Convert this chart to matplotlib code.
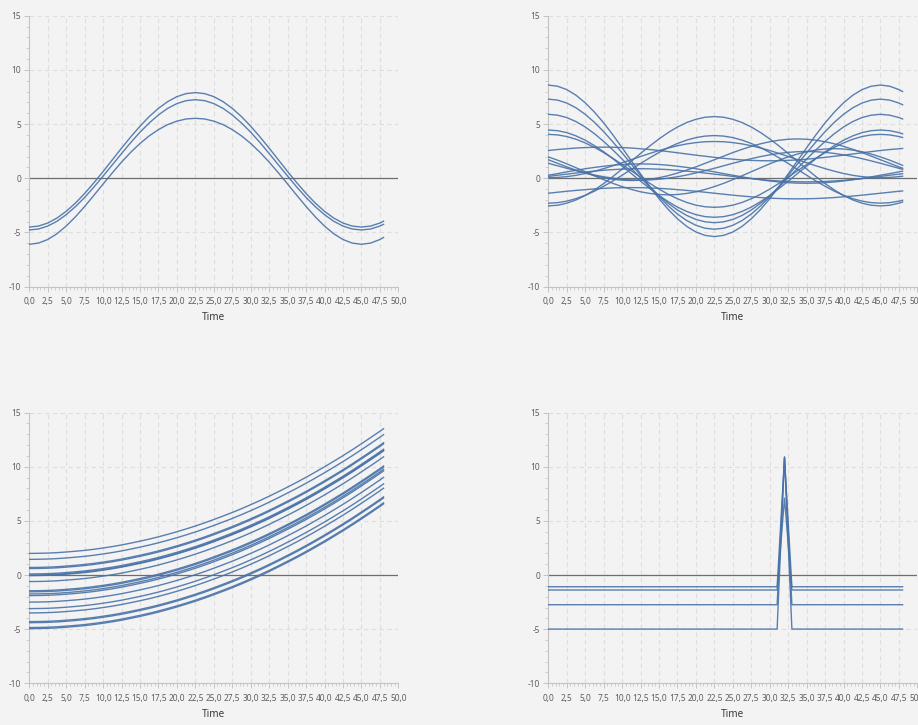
import matplotlib.pyplot as plt
import numpy as np
from matplotlib.ticker import MultipleLocator, FuncFormatter

plt.rcParams['font.family'] = ['Noto Sans', 'DejaVu Sans']
plt.rcParams['axes.unicode_minus'] = False

# sample times: every 1.25 up to 47.5, then the last sample at 48
t_grid = list(np.arange(0, 47.5 + 0.01, 1.25)) + [48]

# top left: three slow waves
waves_few = [
    [-4.50, -4.41, -4.13, -3.67, -3.05, -2.29, -1.40, -0.42, 0.62, 1.70,
     2.78, 3.82, 4.80, 5.69, 6.45, 7.07, 7.53, 7.81, 7.90, 7.81,
     7.53, 7.07, 6.45, 5.69, 4.80, 3.82, 2.78, 1.70, 0.62, -0.42,
     -1.40, -2.29, -3.05, -3.67, -4.13, -4.41, -4.50, -4.41, -4.13, -3.96],
    [-4.77, -4.68, -4.41, -3.97, -3.36, -2.62, -1.77, -0.82, 0.20, 1.24,
     2.28, 3.30, 4.25, 5.10, 5.84, 6.45, 6.89, 7.16, 7.25, 7.16,
     6.89, 6.45, 5.84, 5.10, 4.25, 3.30, 2.28, 1.24, 0.20, -0.82,
     -1.77, -2.62, -3.36, -3.97, -4.41, -4.68, -4.77, -4.68, -4.41, -4.25],
    [-6.09, -5.98, -5.65, -5.12, -4.41, -3.56, -2.60, -1.58, -0.53, 0.50,
     1.49, 2.40, 3.21, 3.91, 4.49, 4.95, 5.27, 5.47, 5.53, 5.47,
     5.27, 4.95, 4.49, 3.91, 3.21, 2.40, 1.49, 0.50, -0.53, -1.58,
     -2.60, -3.56, -4.41, -5.12, -5.65, -5.98, -6.09, -5.98, -5.65, -5.46],
]

# top right: many waves with mixed phases
waves_many = [
    [8.60, 8.49, 8.18, 7.66, 6.96, 6.10, 5.11, 4.00, 2.82, 1.61,
     0.40, -0.78, -1.89, -2.88, -3.74, -4.44, -4.96, -5.27, -5.38, -5.27,
     -4.96, -4.44, -3.74, -2.88, -1.89, -0.78, 0.40, 1.61, 2.82, 4.00,
     5.11, 6.10, 6.96, 7.66, 8.18, 8.49, 8.60, 8.49, 8.18, 8.00],
    [7.30, 7.21, 6.94, 6.50, 5.90, 5.16, 4.30, 3.35, 2.34, 1.30,
     0.26, -0.75, -1.70, -2.56, -3.30, -3.90, -4.34, -4.61, -4.70, -4.61,
     -4.34, -3.90, -3.30, -2.56, -1.70, -0.75, 0.26, 1.30, 2.34, 3.35,
     4.30, 5.16, 5.90, 6.50, 6.94, 7.21, 7.30, 7.21, 6.94, 6.78],
    [5.90, 5.82, 5.60, 5.23, 4.73, 4.11, 3.40, 2.61, 1.77, 0.90,
     0.03, -0.81, -1.60, -2.31, -2.93, -3.43, -3.80, -4.02, -4.10, -4.02,
     -3.80, -3.43, -2.93, -2.31, -1.60, -0.81, 0.03, 0.90, 1.77, 2.61,
     3.40, 4.11, 4.73, 5.23, 5.60, 5.82, 5.90, 5.82, 5.60, 5.47],
    [4.45, 4.39, 4.21, 3.91, 3.51, 3.01, 2.44, 1.80, 1.12, 0.43,
     -0.27, -0.95, -1.59, -2.16, -2.66, -3.06, -3.36, -3.54, -3.60, -3.54,
     -3.36, -3.06, -2.66, -2.16, -1.59, -0.95, -0.27, 0.43, 1.12, 1.80,
     2.44, 3.01, 3.51, 3.91, 4.21, 4.39, 4.45, 4.39, 4.21, 4.10],
    [4.05, 4.00, 3.85, 3.60, 3.26, 2.85, 2.37, 1.84, 1.27, 0.69,
     0.10, -0.47, -1.00, -1.48, -1.89, -2.23, -2.48, -2.63, -2.68, -2.63,
     -2.48, -2.23, -1.89, -1.48, -1.00, -0.47, 0.10, 0.69, 1.27, 1.84,
     2.37, 2.85, 3.26, 3.60, 3.85, 4.00, 4.05, 4.00, 3.85, 3.76],
    [-2.55, -2.49, -2.30, -2.00, -1.59, -1.08, -0.49, 0.16, 0.85, 1.57,
     2.29, 2.98, 3.63, 4.22, 4.73, 5.14, 5.44, 5.63, 5.69, 5.63,
     5.44, 5.14, 4.73, 4.22, 3.63, 2.98, 2.29, 1.57, 0.85, 0.16,
     -0.49, -1.08, -1.59, -2.00, -2.30, -2.49, -2.55, -2.49, -2.30, -2.19],
    [-2.30, -2.25, -2.11, -1.88, -1.57, -1.19, -0.74, -0.25, 0.28, 0.82,
     1.36, 1.89, 2.38, 2.83, 3.21, 3.52, 3.75, 3.89, 3.94, 3.89,
     3.75, 3.52, 3.21, 2.83, 2.38, 1.89, 1.36, 0.82, 0.28, -0.25,
     -0.74, -1.19, -1.57, -1.88, -2.11, -2.25, -2.30, -2.25, -2.11, -2.03],
    [0.05, 0.08, 0.15, 0.27, 0.44, 0.65, 0.89, 1.15, 1.43, 1.72,
     2.01, 2.29, 2.56, 2.79, 3.00, 3.17, 3.29, 3.37, 3.39, 3.37,
     3.29, 3.17, 3.00, 2.79, 2.56, 2.29, 2.01, 1.72, 1.43, 1.15,
     0.89, 0.65, 0.44, 0.27, 0.15, 0.08, 0.05, 0.08, 0.15, 0.19],
    [1.71, 1.38, 1.05, 0.75, 0.48, 0.24, 0.05, -0.09, -0.18, -0.21,
     -0.18, -0.09, 0.05, 0.24, 0.48, 0.75, 1.05, 1.38, 1.71, 2.04,
     2.37, 2.67, 2.94, 3.18, 3.37, 3.51, 3.60, 3.63, 3.60, 3.51,
     3.37, 3.18, 2.94, 2.67, 2.37, 2.04, 1.71, 1.38, 1.05, 0.93],
    [-1.38, -1.29, -1.20, -1.12, -1.05, -0.98, -0.93, -0.89, -0.87, -0.86,
     -0.87, -0.89, -0.93, -0.98, -1.05, -1.12, -1.20, -1.29, -1.38, -1.47,
     -1.56, -1.64, -1.71, -1.78, -1.83, -1.87, -1.89, -1.90, -1.89, -1.87,
     -1.83, -1.78, -1.71, -1.64, -1.56, -1.47, -1.38, -1.29, -1.20, -1.17],
    [1.97, 1.67, 1.33, 0.97, 0.60, 0.23, -0.13, -0.47, -0.77, -1.03,
     -1.25, -1.40, -1.50, -1.53, -1.50, -1.40, -1.25, -1.03, -0.77, -0.47,
     -0.13, 0.23, 0.60, 0.97, 1.33, 1.67, 1.97, 2.23, 2.45, 2.60,
     2.70, 2.73, 2.70, 2.60, 2.45, 2.23, 1.97, 1.67, 1.33, 1.19],
    [1.38, 1.15, 0.92, 0.70, 0.49, 0.30, 0.14, 0.01, -0.09, -0.15,
     -0.17, -0.15, -0.09, 0.01, 0.14, 0.30, 0.49, 0.70, 0.92, 1.15,
     1.38, 1.60, 1.81, 2.00, 2.16, 2.29, 2.39, 2.45, 2.47, 2.45,
     2.39, 2.29, 2.16, 2.00, 1.81, 1.60, 1.38, 1.15, 0.92, 0.83],
    [2.56, 2.65, 2.72, 2.79, 2.83, 2.86, 2.87, 2.86, 2.83, 2.79,
     2.72, 2.65, 2.56, 2.46, 2.35, 2.24, 2.13, 2.03, 1.93, 1.84,
     1.76, 1.69, 1.65, 1.62, 1.61, 1.62, 1.65, 1.69, 1.76, 1.84,
     1.93, 2.03, 2.13, 2.24, 2.35, 2.46, 2.56, 2.65, 2.72, 2.75],
    [0.28, 0.43, 0.59, 0.73, 0.88, 1.00, 1.11, 1.20, 1.27, 1.31,
     1.32, 1.31, 1.27, 1.20, 1.11, 1.00, 0.88, 0.73, 0.59, 0.43,
     0.28, 0.13, -0.02, -0.14, -0.25, -0.34, -0.41, -0.45, -0.46, -0.45,
     -0.41, -0.34, -0.25, -0.14, -0.02, 0.13, 0.28, 0.43, 0.59, 0.65],
    [0.17, 0.28, 0.38, 0.48, 0.58, 0.66, 0.74, 0.80, 0.84, 0.87,
     0.88, 0.87, 0.84, 0.80, 0.74, 0.66, 0.58, 0.48, 0.38, 0.28,
     0.17, 0.07, -0.03, -0.11, -0.19, -0.25, -0.29, -0.32, -0.33, -0.32,
     -0.29, -0.25, -0.19, -0.11, -0.03, 0.07, 0.17, 0.28, 0.38, 0.42],
]

# bottom left: rising curves that share one shape, each from its own level
start_levels = [2.0, 1.45, 0.7, 0.6, 0.1, 0.0, -0.05, -0.6, -1.45, -1.55,
                -1.75, -1.9, -2.5, -3.1, -3.5, -4.3, -4.4, -4.85, -4.95]
rise = [0, 0.01, 0.03, 0.07, 0.13, 0.20, 0.28, 0.38, 0.50, 0.63,
        0.78, 0.95, 1.13, 1.32, 1.53, 1.76, 2.00, 2.26, 2.53, 2.82,
        3.13, 3.45, 3.78, 4.13, 4.50, 4.88, 5.28, 5.70, 6.13, 6.57,
        7.03, 7.51, 8.00, 8.51, 9.03, 9.57, 10.13, 10.70, 11.28, 11.52]

# bottom right: flat levels with a single spike
spike_t = [0, 31, 32, 33, 48]
spikes = [
    [-1.08, -1.08, 10.8, -1.08, -1.08],
    [-1.38, -1.38, 7.1, -1.38, -1.38],
    [-2.74, -2.74, 10.9, -2.74, -2.74],
    [-4.99, -4.99, 10.9, -4.99, -4.99],
]

BG = '#f3f3f3'
LINE = '#4872a8'

fig = plt.figure(figsize=(9.18, 7.25), dpi=100, facecolor=BG)

boxes = [
    [0.0319, 0.6046, 0.402, 0.3738],
    [0.5973, 0.6046, 0.402, 0.3738],
    [0.0319, 0.0575, 0.402, 0.3733],
    [0.5973, 0.0575, 0.402, 0.3733],
]


def comma(v, pos):
    return ('%.1f' % v).replace('.', ',')


def style(ax):
    ax.set_facecolor(BG)
    ax.set_xlim(0, 50)
    ax.set_ylim(-10, 15)
    ax.xaxis.set_major_locator(MultipleLocator(2.5))
    ax.xaxis.set_minor_locator(MultipleLocator(0.5))
    ax.yaxis.set_major_locator(MultipleLocator(5))
    ax.yaxis.set_minor_locator(MultipleLocator(1))
    ax.xaxis.set_major_formatter(FuncFormatter(comma))
    for s in ['top', 'right']:
        ax.spines[s].set_visible(False)
    for s in ['left', 'bottom']:
        ax.spines[s].set_color('#c4c4c4')
        ax.spines[s].set_linewidth(0.8)
    ax.tick_params(which='major', length=3.6, width=0.7, color='#c4c4c4',
                   labelsize=6, labelcolor='#5e5e5e')
    ax.tick_params(which='minor', length=2.4, width=0.6, color='#c8c8c8')
    ax.tick_params(axis='x', which='major', pad=4)
    ax.tick_params(axis='y', which='major', pad=2.4)
    ax.grid(True, which='major', color='#dedede', linestyle=(0, (4, 3)),
            linewidth=0.8)
    ax.set_axisbelow(True)
    ax.axhline(0, color='#6e6e6e', linewidth=0.9, zorder=1)
    ax.set_xlabel('Time', fontsize=7.2, color='#3a3a3a', labelpad=4.5)


axes = [fig.add_axes(b) for b in boxes]
for ax in axes:
    style(ax)

t = np.array(t_grid)
for y in waves_few:
    axes[0].plot(t, y, color=LINE, linewidth=1.0, alpha=0.9, zorder=3)

for y in waves_many:
    axes[1].plot(t, y, color=LINE, linewidth=1.0, alpha=0.9, zorder=3)

for level in start_levels:
    axes[2].plot(t, level + np.array(rise), color=LINE, linewidth=1.0,
                 alpha=0.9, zorder=3)

for y in spikes:
    axes[3].plot(spike_t, y, color=LINE, linewidth=1.0, alpha=0.9, zorder=3)

fig.savefig('out.png', dpi=100, facecolor=BG)
